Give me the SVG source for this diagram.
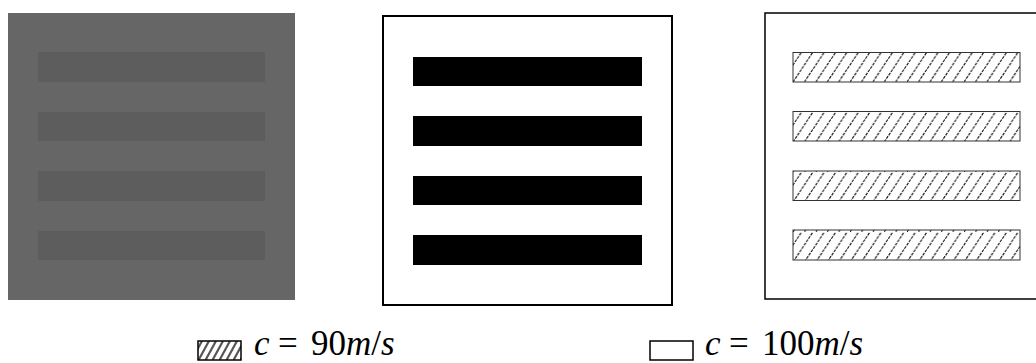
<svg xmlns="http://www.w3.org/2000/svg" width="1036" height="363" viewBox="0 0 1036 363">
<style>
.gbar{fill:#5d5d5d}
.bbar{fill:#000}
.hbar{fill:url(#hatch);stroke:#333;stroke-width:1}
.frame{fill:#fff;stroke:#000}
.lbl{font-family:"Liberation Serif",serif;font-size:35px;fill:#000}
.it{font-style:italic}
</style>
<defs>
<pattern id="hatch" patternUnits="userSpaceOnUse" width="11.4" height="30" x="793" y="52">
<g stroke="#111" stroke-width="1.1" stroke-dasharray="3 1">
<line x1="-22.8" y1="30" x2="-2.8" y2="0"/>
<line x1="-11.4" y1="30" x2="8.6" y2="0"/>
<line x1="0" y1="30" x2="20" y2="0"/>
</g>
</pattern>
<pattern id="hatch2" patternUnits="userSpaceOnUse" width="7" height="20" x="198" y="341">
<g stroke="#555" stroke-width="2.2">
<line x1="-14" y1="20" x2="-3" y2="0"/>
<line x1="-7" y1="20" x2="4" y2="0"/>
<line x1="0" y1="20" x2="11" y2="0"/>
</g>
</pattern>
</defs>
<rect width="1036" height="363" fill="#fff"/>
<g id="panel1">
<rect x="8" y="13" width="287" height="287" fill="#666"/>
<rect class="gbar" x="38" y="52" width="227" height="30"/>
<rect class="gbar" x="38" y="112" width="227" height="29"/>
<rect class="gbar" x="38" y="171" width="227" height="30"/>
<rect class="gbar" x="38" y="231" width="227" height="29"/>
</g>
<g id="panel2">
<rect class="frame" x="383" y="16" width="289" height="289" stroke-width="2"/>
<rect class="bbar" x="413" y="57" width="229" height="29"/>
<rect class="bbar" x="413" y="116" width="229" height="30"/>
<rect class="bbar" x="413" y="176" width="229" height="29"/>
<rect class="bbar" x="413" y="235" width="229" height="30"/>
</g>
<g id="panel3">
<rect class="frame" x="765" y="13" width="290" height="286" stroke-width="1.5"/>
<rect class="hbar" x="793" y="52.5" width="227" height="29.5"/>
<rect class="hbar" x="793" y="111.5" width="227" height="29.5"/>
<rect class="hbar" x="793" y="171" width="227" height="29.5"/>
<rect class="hbar" x="793" y="230" width="227" height="30"/>
</g>
<g id="legend1">
<rect x="198" y="341" width="43" height="19" fill="url(#hatch2)" stroke="#000" stroke-width="1.5"/>
<text class="lbl" y="355"><tspan class="it" x="254">c</tspan><tspan x="278">=</tspan><tspan x="311">90</tspan><tspan class="it">m</tspan>/<tspan class="it">s</tspan></text>
</g>
<g id="legend2">
<rect x="650" y="341" width="43" height="19" fill="#fff" stroke="#000" stroke-width="1.5"/>
<text class="lbl" y="355"><tspan class="it" x="705">c</tspan><tspan x="729">=</tspan><tspan x="762">100</tspan><tspan class="it">m</tspan>/<tspan class="it">s</tspan></text>
</g>
</svg>
